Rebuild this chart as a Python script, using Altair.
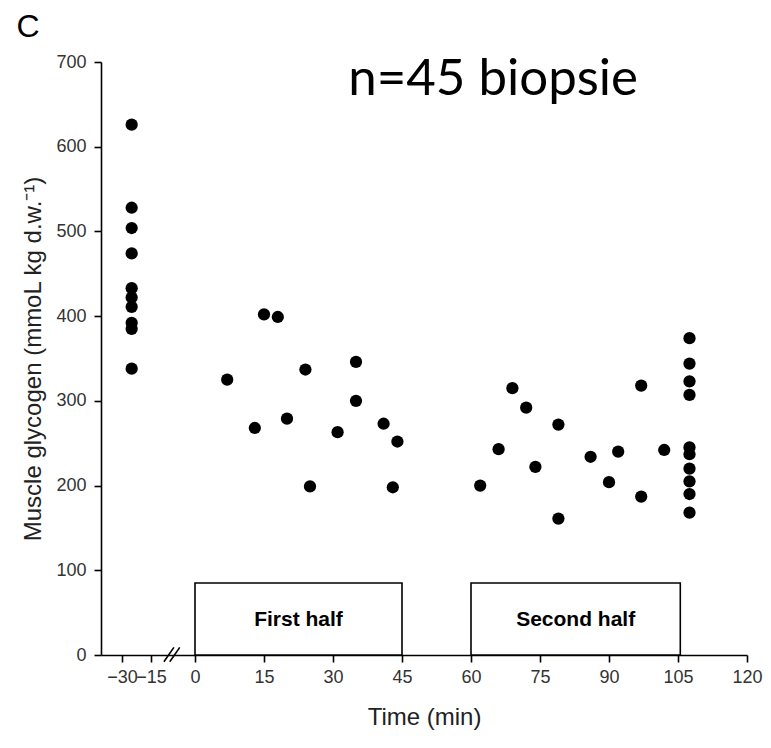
import altair as alt
import pandas as pd

# ---- data ----
base_time = [-25] * 10
base_glycogen = [626, 528, 504, 474, 433, 422, 411, 392, 385, 338]
first_time = [7, 13, 15, 18, 20, 24, 25, 31, 35, 35, 41, 43, 44]
first_glycogen = [325, 268, 402, 399, 279, 337, 199, 263, 346, 300, 273, 198, 252]
second_time = [62, 66, 69, 72, 74, 79, 79, 86, 90, 92, 97, 97, 102]
second_glycogen = [200, 243, 315, 292, 222, 272, 161, 234, 204, 240, 318, 187, 242]
end_time = [107.5] * 10
end_glycogen = [374, 344, 323, 307, 245, 237, 220, 205, 190, 168]

phase_labels = ["First half", "Second half"]
phase_start = [0, 60]
phase_end = [45, 105.5]
phase_top = [85, 85]
phase_label_y = [41, 41]

x_ticks = [-30, -15, 0, 15, 30, 45, 60, 75, 90, 105, 120]
y_ticks = [0, 100, 200, 300, 400, 500, 600, 700]

# axis break marks ("//")
break_x1 = [-10.6, -8.6]
break_x2 = [-7.2, -5.2]
break_y1 = [-8, -8]
break_y2 = [9, 9]

annotation_text = ["n=45 biopsie"]
annotation_x = [64.8]
annotation_y = [661]

panel_text = ["C"]
panel_x = [-84.5]
panel_y = [730]

points = pd.DataFrame({
    "time": base_time + first_time + second_time + end_time,
    "glycogen": base_glycogen + first_glycogen + second_glycogen + end_glycogen,
})
phases = pd.DataFrame({
    "label": phase_labels,
    "start": phase_start,
    "end": phase_end,
    "bottom": [0, 0],
    "top": phase_top,
    "mid": [(a + b) / 2 for a, b in zip(phase_start, phase_end)],
    "ly": phase_label_y,
})
breaks = pd.DataFrame({"x1": break_x1, "x2": break_x2, "y1": break_y1, "y2": break_y2})
annot = pd.DataFrame({"text": annotation_text, "x": annotation_x, "y": annotation_y})
panel = pd.DataFrame({"text": panel_text, "x": panel_x, "y": panel_y})

W, H = 646, 593
xscale = alt.Scale(domain=[-40.86, -30, -15, 0, 120], range=[0, 21, 50, 94, 646],
                   zero=False, nice=False)
yscale = alt.Scale(domain=[0, 700], zero=False, nice=False)

AX_FONT = "Liberation Sans Narrow, Liberation Sans, Arial, sans-serif"

xaxis = alt.Axis(values=x_ticks, title="Time (min)", labelOverlap=False, labelFlush=False,
                 grid=False, tickSize=7, labelPadding=6, titlePadding=19,
                 labelFontSize=18, titleFontSize=24, labelFont=AX_FONT, titleFont=AX_FONT,
                 titleFontWeight="normal", labelColor="#333333", titleColor="#222222",
                 domainColor="black", domainWidth=1.6, tickColor="black", tickWidth=1.6)
yaxis = alt.Axis(values=y_ticks, title="Muscle glycogen (mmoL kg d.w.\u207b\u00b9)",
                 labelOverlap=False, grid=False, tickSize=7, labelPadding=8, titlePadding=10,
                 labelFontSize=18, titleFontSize=24, labelFont=AX_FONT, titleFont=AX_FONT,
                 titleFontWeight="normal", labelColor="#333333", titleColor="#222222",
                 domainColor="black", domainWidth=1.6, tickColor="black", tickWidth=1.6)

pts = alt.Chart(points).mark_point(filled=True, shape="circle", size=150, color="black",
                                   opacity=1).encode(
    x=alt.X("time:Q", scale=xscale, axis=xaxis),
    y=alt.Y("glycogen:Q", scale=yscale, axis=yaxis),
)

boxes = alt.Chart(phases).mark_rect(fill="white", stroke="black", strokeWidth=1.6).encode(
    x=alt.X("start:Q", scale=xscale), x2="end:Q",
    y=alt.Y("bottom:Q", scale=yscale), y2="top:Q",
)
box_text = alt.Chart(phases).mark_text(fontSize=21, fontWeight="bold", font=AX_FONT,
                                       color="black", baseline="middle").encode(
    x=alt.X("mid:Q", scale=xscale), y=alt.Y("ly:Q", scale=yscale), text="label:N",
)
brk = alt.Chart(breaks).mark_rule(color="black", strokeWidth=1.6).encode(
    x=alt.X("x1:Q", scale=xscale), x2="x2:Q",
    y=alt.Y("y1:Q", scale=yscale), y2="y2:Q",
)
ann = alt.Chart(annot).mark_text(font="Lato", fontSize=51, color="black",
                                 baseline="alphabetic", align="center").encode(
    x=alt.X("x:Q", scale=xscale), y=alt.Y("y:Q", scale=yscale), text="text:N",
)
panel_lbl = alt.Chart(panel).mark_text(font="Liberation Sans", fontSize=32, color="black",
                                       baseline="alphabetic", align="left").encode(
    x=alt.X("x:Q", scale=xscale), y=alt.Y("y:Q", scale=yscale), text="text:N",
)

chart = alt.layer(boxes, box_text, brk, pts, ann, panel_lbl).properties(
    width=W, height=H,
    background="white",
    autosize=alt.AutoSizeParams(type="none"),
    padding={"left": 101, "top": 62, "right": 24, "bottom": 93},
).configure_view(strokeWidth=0, stroke="transparent")

chart.save("out.html", embed_options={"renderer": "svg", "actions": False})
